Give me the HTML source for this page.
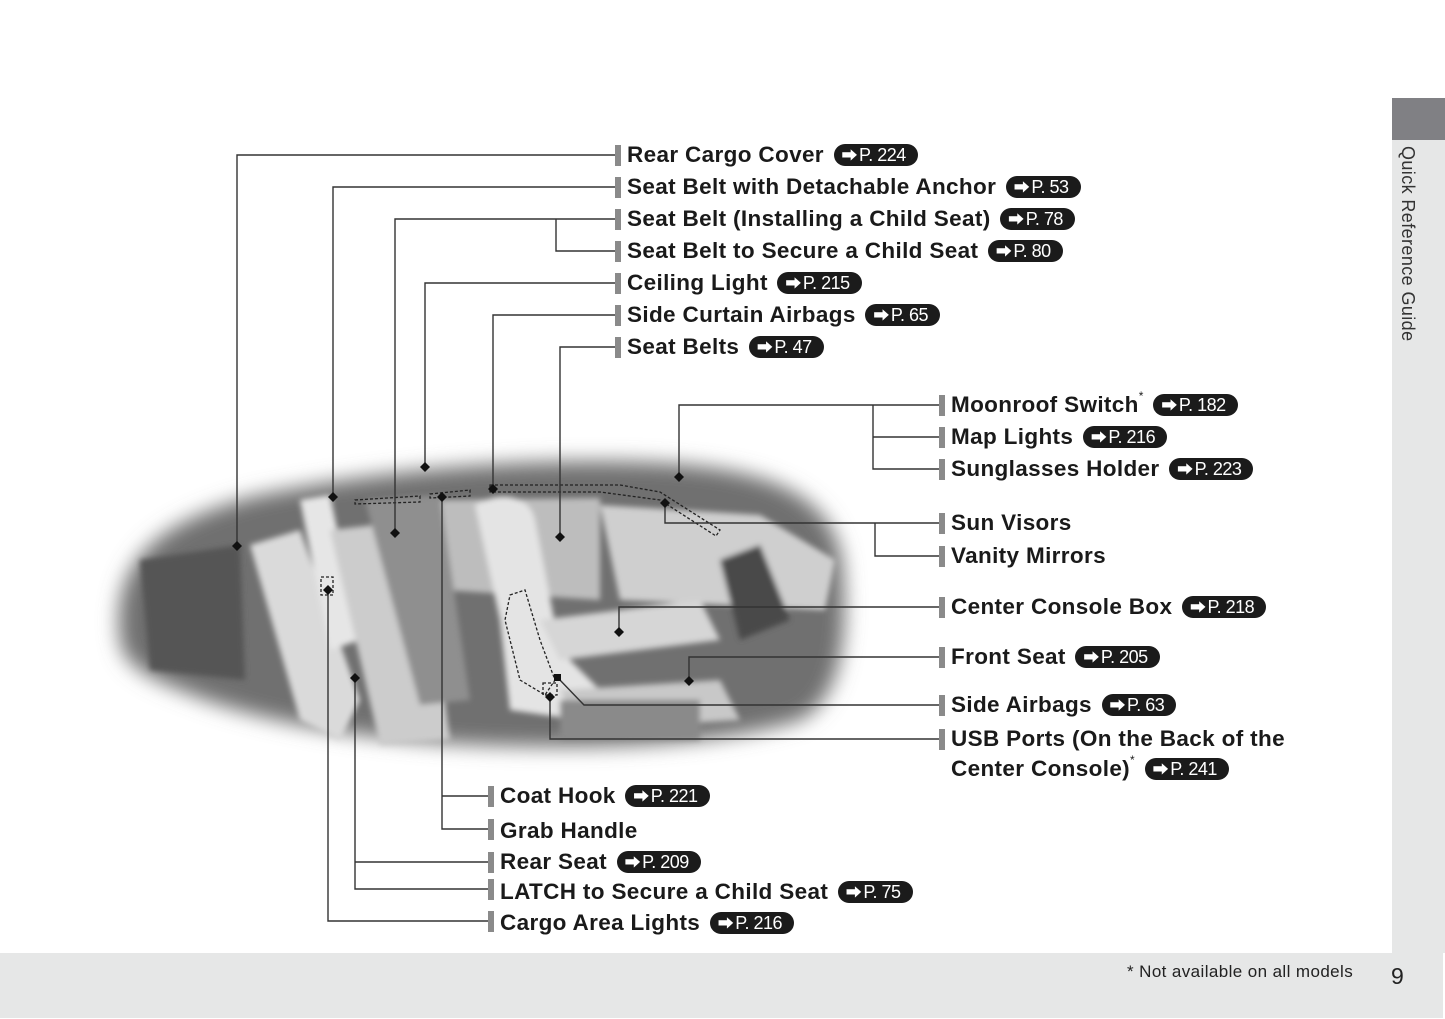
<!DOCTYPE html>
<html><head><meta charset="utf-8"><style>
html,body{margin:0;padding:0;background:#fff;width:1445px;height:1019px;overflow:hidden;position:relative;font-family:"Liberation Sans",sans-serif}
.l{position:absolute;font-weight:bold;font-size:22.5px;color:#1a1a1a;white-space:nowrap;line-height:26px;letter-spacing:0.35px}
.b{display:inline-block;background:#1b1b1b;color:#fff;font-weight:normal;font-size:18px;line-height:22px;height:22px;border-radius:11px;padding:0 12px 0 8px;vertical-align:1px;margin-left:3px;letter-spacing:-0.5px}
.b i{font-style:normal;font-size:16px;margin-right:2px}
.s{display:inline-block;font-size:12px;font-weight:normal;line-height:0;vertical-align:top;position:relative;top:4px}
</style></head><body>
<div style="position:absolute;left:0;top:953px;width:1443px;height:65px;background:#e6e7e7"></div>
<div style="position:absolute;left:1392px;top:98px;width:53px;height:42px;background:#808084"></div>
<div style="position:absolute;left:1392px;top:140px;width:53px;height:813px;background:#e6e7e7"></div>
<div style="position:absolute;left:1418px;top:146px;transform-origin:0 0;transform:rotate(90deg);font-size:18px;color:#333;white-space:nowrap;letter-spacing:0.4px">Quick Reference Guide</div>
<div style="position:absolute;left:1127px;top:962px;font-size:17px;color:#222;letter-spacing:0.4px">* Not available on all models</div>
<div style="position:absolute;left:1391px;top:963px;font-size:23px;color:#222">9</div>

<svg width="1445" height="1019" style="position:absolute;left:0;top:0">
<defs>
<filter id="bl" x="-10%" y="-10%" width="120%" height="120%"><feGaussianBlur stdDeviation="10"/></filter>
<filter id="bl2"><feGaussianBlur stdDeviation="3"/></filter>
</defs>
<path filter="url(#bl)" fill="#707070" d="M120,640 C110,560 160,520 260,495 C380,470 520,458 640,462 C760,466 830,490 842,560 C850,640 840,700 800,720 C720,745 600,750 480,745 C360,740 250,720 180,690 C140,675 122,660 120,640Z"/>
<g filter="url(#bl2)">
<path fill="#cfcfcf" d="M600,505 L760,515 L835,560 L825,610 L620,600 Z"/>
<path fill="#bdbdbd" d="M440,500 L600,498 L600,600 L445,590 Z"/>
<path fill="#555" d="M140,560 L240,545 L245,680 L150,670Z"/>
<path fill="#dadada" d="M250,545 L300,530 L360,700 L340,740 L300,720Z"/>
<path fill="#e6e6e6" d="M300,500 L330,495 L360,640 L330,650Z"/>
<path fill="#cccccc" d="M330,530 L420,520 L450,740 L380,745Z"/>
<path fill="#8f8f8f" d="M365,500 L440,495 L470,700 L420,705Z"/>
<path fill="#e4e4e4" d="M475,505 C500,490 530,495 535,520 L560,650 L600,690 L580,720 L510,710 L500,620Z"/>
<path fill="#d6d6d6" d="M540,620 L700,600 L720,640 L560,660Z"/>
<path fill="#c8c8c8" d="M560,690 L720,680 L740,720 L580,730Z"/>
<path fill="#4a4a4a" d="M720,560 L760,545 L790,620 L740,640Z"/>
<path fill="#8a8a8a" d="M560,700 L700,700 L700,740 L560,740Z"/>
</g>
<g fill="none" stroke="#222" stroke-width="1.3" stroke-dasharray="3,2">
<path d="M355,500 L420,496 L420,502 L355,504Z"/>
<path d="M430,494 L470,490 L470,496 L430,498Z"/>
<path d="M490,485 L620,485 L660,492 L720,530 L716,536 L660,500 L600,492 L490,492Z"/>
<path d="M510,595 L525,590 L540,640 L555,680 L545,695 L520,680 L505,620Z"/>
<rect x="321" y="577" width="12" height="18"/>
<rect x="543" y="683" width="14" height="12"/>
</g>
<g stroke="#333" stroke-width="1.4" fill="none">
<path d="M237,546 V155 H617"/>
<path d="M333,497 V187 H617"/>
<path d="M395,533 V219 H617 M556,219 V251 H617"/>
<path d="M425,467 V283 H617"/>
<path d="M493,489 V315 H617"/>
<path d="M560,537 V347 H617"/>
<path d="M679,477 V405 H941 M873,405 V469 H941 M873,437 H941"/>
<path d="M665,503 V523 H941 M875,523 V556 H941"/>
<path d="M619,632 V607 H941"/>
<path d="M689,681 V657 H941"/>
<path d="M558,678 L584,705 H941"/>
<path d="M550,697 V739 H941"/>
<path d="M442,497 V829 H490 M442,796 H490"/>
<path d="M355,678 V889 H490 M355,862 H490"/>
<path d="M328,590 V921 H490"/>
</g>
<g fill="#111">
<path d="M237,541 l5,5 -5,5 -5,-5Z"/><path d="M333,492 l5,5 -5,5 -5,-5Z"/>
<path d="M395,528 l5,5 -5,5 -5,-5Z"/><path d="M425,462 l5,5 -5,5 -5,-5Z"/>
<path d="M493,484 l5,5 -5,5 -5,-5Z"/><path d="M560,532 l5,5 -5,5 -5,-5Z"/>
<path d="M679,472 l5,5 -5,5 -5,-5Z"/><path d="M665,498 l5,5 -5,5 -5,-5Z"/>
<path d="M619,627 l5,5 -5,5 -5,-5Z"/><path d="M689,676 l5,5 -5,5 -5,-5Z"/>
<rect x="554" y="674" width="7" height="7"/><path d="M550,692 l5,5 -5,5 -5,-5Z"/>
<path d="M442,492 l5,5 -5,5 -5,-5Z"/><path d="M355,673 l5,5 -5,5 -5,-5Z"/>
<path d="M328,585 l5,5 -5,5 -5,-5Z"/>
</g>
<g fill="#8a8a8a">
<rect x="615" y="145" width="6" height="21"/><rect x="615" y="177" width="6" height="21"/>
<rect x="615" y="209" width="6" height="21"/><rect x="615" y="241" width="6" height="21"/>
<rect x="615" y="273" width="6" height="21"/><rect x="615" y="305" width="6" height="21"/>
<rect x="615" y="337" width="6" height="21"/>
<rect x="939" y="395" width="6" height="21"/><rect x="939" y="427" width="6" height="21"/>
<rect x="939" y="459" width="6" height="21"/><rect x="939" y="513" width="6" height="21"/>
<rect x="939" y="546" width="6" height="21"/><rect x="939" y="597" width="6" height="21"/>
<rect x="939" y="647" width="6" height="21"/><rect x="939" y="695" width="6" height="21"/>
<rect x="939" y="729" width="6" height="21"/>
<rect x="488" y="786" width="6" height="21"/><rect x="488" y="819" width="6" height="21"/>
<rect x="488" y="852" width="6" height="21"/><rect x="488" y="879" width="6" height="21"/>
<rect x="488" y="911" width="6" height="21"/>
</g>
</svg>

<div class="l" style="left:627px;top:142px">Rear Cargo Cover <span class="b"><i>⮕</i>P. 224</span></div>
<div class="l" style="left:627px;top:174px">Seat Belt with Detachable Anchor <span class="b"><i>⮕</i>P. 53</span></div>
<div class="l" style="left:627px;top:206px">Seat Belt (Installing a Child Seat) <span class="b"><i>⮕</i>P. 78</span></div>
<div class="l" style="left:627px;top:238px">Seat Belt to Secure a Child Seat <span class="b"><i>⮕</i>P. 80</span></div>
<div class="l" style="left:627px;top:270px">Ceiling Light <span class="b"><i>⮕</i>P. 215</span></div>
<div class="l" style="left:627px;top:302px">Side Curtain Airbags <span class="b"><i>⮕</i>P. 65</span></div>
<div class="l" style="left:627px;top:334px">Seat Belts <span class="b"><i>⮕</i>P. 47</span></div>
<div class="l" style="left:951px;top:392px">Moonroof Switch<span class="s">*</span> <span class="b"><i>⮕</i>P. 182</span></div>
<div class="l" style="left:951px;top:424px">Map Lights <span class="b"><i>⮕</i>P. 216</span></div>
<div class="l" style="left:951px;top:456px">Sunglasses Holder <span class="b"><i>⮕</i>P. 223</span></div>
<div class="l" style="left:951px;top:510px">Sun Visors</div>
<div class="l" style="left:951px;top:543px">Vanity Mirrors</div>
<div class="l" style="left:951px;top:594px">Center Console Box <span class="b"><i>⮕</i>P. 218</span></div>
<div class="l" style="left:951px;top:644px">Front Seat <span class="b"><i>⮕</i>P. 205</span></div>
<div class="l" style="left:951px;top:692px">Side Airbags <span class="b"><i>⮕</i>P. 63</span></div>
<div class="l" style="left:951px;top:726px">USB Ports (On the Back of the</div>
<div class="l" style="left:951px;top:756px">Center Console)<span class="s">*</span> <span class="b"><i>⮕</i>P. 241</span></div>
<div class="l" style="left:500px;top:783px">Coat Hook <span class="b"><i>⮕</i>P. 221</span></div>
<div class="l" style="left:500px;top:818px">Grab Handle</div>
<div class="l" style="left:500px;top:849px">Rear Seat <span class="b"><i>⮕</i>P. 209</span></div>
<div class="l" style="left:500px;top:879px">LATCH to Secure a Child Seat <span class="b"><i>⮕</i>P. 75</span></div>
<div class="l" style="left:500px;top:910px">Cargo Area Lights <span class="b"><i>⮕</i>P. 216</span></div>
</body></html>
